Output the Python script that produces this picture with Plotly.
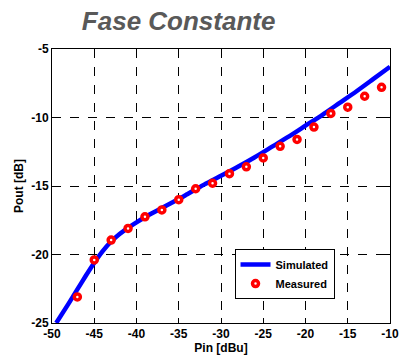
import plotly.graph_objects as go

# simulated curve
sim_pin = [-49.5, -48, -47, -46, -45, -44, -43, -42, -41, -40, -39, -38, -37,
           -36, -35, -34, -33, -32, -30, -28, -26, -24, -22, -20, -18, -16,
           -14, -12, -10]
sim_pout = [-25.0, -23.55, -22.55, -21.55, -20.6, -19.75, -19.05, -18.5, -18.05,
            -17.65, -17.28, -16.93, -16.6, -16.28, -15.95, -15.6, -15.25, -14.9,
            -14.25, -13.6, -12.9, -12.15, -11.4, -10.6, -9.8, -8.95, -8.1, -7.2,
            -6.3]

# measured points
meas_pin = [-47, -45, -43, -41, -39, -37, -35, -33, -31, -29, -27, -25, -23,
            -21, -19, -17, -15, -13, -11]
meas_pout = [-23.1, -20.4, -18.95, -18.1, -17.25, -16.75, -16.0, -15.2, -14.8,
             -14.1, -13.6, -12.95, -12.1, -11.6, -10.7, -9.7, -9.25, -8.45, -7.8]

xticks = [-50, -45, -40, -35, -30, -25, -20, -15, -10]
yticks = [-25, -20, -15, -10, -5]

FONT = 'Arial, Liberation Sans, sans-serif'

fig = go.Figure()

fig.add_trace(go.Scatter(
    x=sim_pin, y=sim_pout, mode='lines', name='<b>Simulated</b>',
    line=dict(color='#0000ff', width=4.5, shape='spline', smoothing=0.6),
))

fig.add_trace(go.Scatter(
    x=meas_pin, y=meas_pout, mode='markers', name='<b>Measured</b>',
    marker=dict(symbol='circle', size=6, color='white',
                line=dict(color='#ff0000', width=3.5)),
))

axis_font = dict(family=FONT, size=12, color='black', weight='bold')

fig.update_layout(
    width=406, height=358,
    margin=dict(l=52, r=7, t=49, b=35),
    paper_bgcolor='white', plot_bgcolor='white',
    title=dict(text='<b><i>Fase Constante</i></b>', x=0.44, xanchor='center',
               y=0.942, yanchor='middle',
               font=dict(family=FONT, size=26, color='#595959')),
    legend=dict(x=0.54, y=0.27, xanchor='left', yanchor='top',
                bgcolor='white', bordercolor='black', borderwidth=1,
                font=dict(family=FONT, size=11, color='black'),
                itemwidth=30, tracegroupgap=0),
    showlegend=True,
)

fig.update_xaxes(
    range=[-50, -10], tickvals=xticks, ticktext=[str(v) for v in xticks],
    tickfont=axis_font, ticks='inside', ticklen=5, tickcolor='black',
    ticklabeloverflow='allow',
    showline=True, linecolor='black', linewidth=1, mirror='ticks',
    showgrid=True, gridcolor='black', griddash='dash', gridwidth=1,
    zeroline=False,
    title=dict(text='<b>Pin [dBu]</b>', font=axis_font, standoff=1),
)
fig.update_yaxes(
    range=[-25, -5], tickvals=yticks, ticktext=[str(v) for v in yticks],
    tickfont=axis_font, ticks='inside', ticklen=5, tickcolor='black',
    ticklabeloverflow='allow',
    showline=True, linecolor='black', linewidth=1, mirror='ticks',
    showgrid=True, gridcolor='black', griddash='dash', gridwidth=1,
    zeroline=False,
    title=dict(text='<b>Pout [dB]</b>', font=axis_font, standoff=5),
)

# page body has a default margin, drop it so the figure sits at 0,0
fig.write_html("out.html", config={'displayModeBar': False},
               post_script="document.body.style.margin='0';")
